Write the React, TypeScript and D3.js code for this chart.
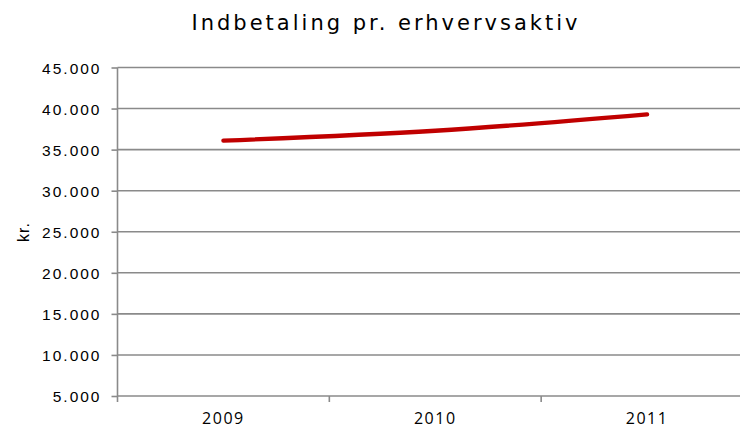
import { useEffect, useRef } from 'react';
import * as d3 from 'd3';

const years = ['2009', '2010', '2011'];
const payments = [36100, 37300, 39300];
const yTicks = [5000, 10000, 15000, 20000, 25000, 30000, 35000, 40000, 45000];

const App = () => {
  const svgRef = useRef<SVGSVGElement>(null);

  useEffect(() => {
    const svg = d3.select(svgRef.current);
    svg.selectAll('*').remove();

    const W = 740;
    const H = 429;
    const margin = { top: 67.5, right: -13, bottom: 33, left: 117.5 };
    const width = W - margin.left - margin.right;
    const height = H - margin.top - margin.bottom;

    svg.attr('width', W).attr('height', H).style('display', 'block').style('overflow', 'hidden');

    const g = svg.append('g').attr('transform', `translate(${margin.left},${margin.top})`);

    const x = d3.scaleBand().domain(years).range([0, width]);
    const y = d3.scaleLinear().domain([5000, 45000]).range([height, 0]);

    // title
    svg.append('text')
      .attr('x', 386)
      .attr('y', 30)
      .attr('text-anchor', 'middle')
      .style('font-family', 'DejaVu Sans, Verdana, sans-serif')
      .style('font-size', '21px')
      .style('letter-spacing', '3px')
      .style('fill', '#000')
      .text('Indbetaling pr. erhvervsaktiv');

    // gridlines
    g.selectAll('.grid')
      .data(yTicks.filter(d => d !== 5000))
      .enter().append('line')
      .attr('x1', 0)
      .attr('x2', width)
      .attr('y1', d => y(d))
      .attr('y2', d => y(d))
      .attr('stroke', '#8a8a8a')
      .attr('stroke-width', 1.6);

    // y axis
    const yAxis = g.append('g')
      .call(d3.axisLeft(y).tickValues(yTicks).tickSize(6).tickFormat(d => d3.format(',')(d as number).replace(/,/g, '.')));
    yAxis.select('.domain').attr('stroke', '#8a8a8a').attr('stroke-width', 1.6).attr('d', `M0,${height}V0`);
    yAxis.selectAll('.tick line').attr('stroke', '#8a8a8a').attr('stroke-width', 1.6);
    yAxis.selectAll('.tick text')
      .attr('x', -16)
      .attr('dy', '0.36em')
      .style('font-family', 'Liberation Sans, Arial, sans-serif')
      .style('font-size', '15.5px')
      .style('letter-spacing', '2px')
      .style('fill', '#000');

    // x axis
    const xAxis = g.append('g')
      .attr('transform', `translate(0,${height})`)
      .call(d3.axisBottom(x).tickSize(0));
    xAxis.select('.domain').attr('stroke', '#8a8a8a').attr('stroke-width', 1.6).attr('d', `M0,0H${width}`);
    xAxis.selectAll('.tick text')
      .attr('y', 28)
      .attr('dy', 0)
      .style('font-family', 'Open Sans, sans-serif')
      .style('font-size', '16px')
      .style('letter-spacing', '1.5px')
      .style('fill', '#000');

    // category boundary ticks
    g.selectAll('.xb')
      .data(years)
      .enter().append('line')
      .attr('x1', d => (x(d) as number) + x.bandwidth())
      .attr('x2', d => (x(d) as number) + x.bandwidth())
      .attr('y1', height)
      .attr('y2', height + 6)
      .attr('stroke', '#8a8a8a')
      .attr('stroke-width', 1.6);
    g.append('line')
      .attr('x1', 0).attr('x2', 0)
      .attr('y1', height).attr('y2', height + 6)
      .attr('stroke', '#8a8a8a').attr('stroke-width', 1.6);

    // y label
    svg.append('text')
      .attr('transform', 'translate(29,232) rotate(-90)')
      .attr('text-anchor', 'middle')
      .style('font-family', 'Liberation Sans, Arial, sans-serif')
      .style('font-size', '16px')
      .style('letter-spacing', '1px')
      .style('fill', '#000')
      .text('kr.');

    // line
    const line = d3.line<number>()
      .x((_, i) => (x(years[i]) as number) + x.bandwidth() / 2)
      .y(d => y(d))
      .curve(d3.curveMonotoneX);

    g.append('path')
      .datum(payments)
      .attr('d', line)
      .attr('fill', 'none')
      .attr('stroke', '#c00000')
      .attr('stroke-width', 4.3)
      .attr('stroke-linecap', 'round');
  }, []);

  return <svg ref={svgRef} style={{ position: 'absolute', left: 0, top: 0 }}></svg>;
};

export default App;
